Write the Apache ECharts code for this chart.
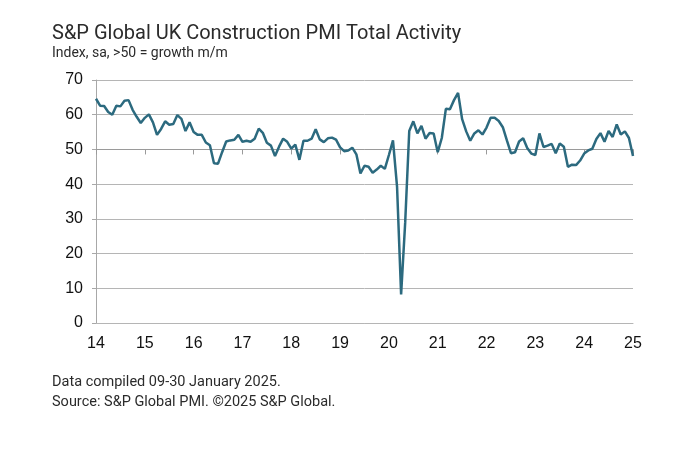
<!DOCTYPE html>
<html>
<head>
<meta charset="utf-8">
<script src="https://cdn.jsdelivr.net/npm/echarts@6/dist/echarts.min.js"></script>
<style>
  html, body { margin: 0; padding: 0; background: #fff; }
  #chart { width: 693px; height: 462px; }
</style>
</head>
<body>
<div id="chart"></div>
<script>
// Monthly index, Jan 2014 .. Jan 2025
var startYear = 14;
var pmiValues = [
  64.6, 62.6, 62.5, 60.8, 60.0, 62.6, 62.4, 64.0, 64.2, 61.4, 59.4, 57.6, // 2014
  59.1, 60.1, 57.8, 54.2, 55.9, 58.1, 57.1, 57.3, 59.9, 58.8, 55.3, 57.8, // 2015
  55.0, 54.2, 54.2, 52.0, 51.2, 46.0, 45.9, 49.2, 52.3, 52.6, 52.8, 54.2, // 2016
  52.2, 52.5, 52.2, 53.1, 56.0, 54.8, 51.9, 51.1, 48.1, 50.8, 53.1, 52.2, // 2017
  50.2, 51.4, 47.0, 52.5, 52.5, 53.1, 55.8, 52.9, 52.1, 53.2, 53.4, 52.8, // 2018
  50.6, 49.5, 49.7, 50.5, 48.6, 43.1, 45.3, 45.0, 43.3, 44.2, 45.3, 44.4, // 2019
  48.4, 52.6, 39.3, 8.2, 28.9, 55.3, 58.1, 54.6, 56.8, 53.1, 54.7, 54.6,  // 2020
  49.2, 53.3, 61.7, 61.6, 64.2, 66.3, 58.7, 55.2, 52.5, 54.6, 55.5, 54.3, // 2021
  56.3, 59.1, 59.1, 58.2, 56.4, 52.6, 48.9, 49.2, 52.3, 53.2, 50.4, 48.8, // 2022
  48.4, 54.6, 50.7, 51.1, 51.6, 48.9, 51.7, 50.8, 45.0, 45.6, 45.5, 46.8, // 2023
  48.8, 49.7, 50.2, 53.0, 54.7, 52.2, 55.3, 53.6, 57.2, 54.3, 55.2, 53.3, // 2024
  48.1                                                                    // 2025
];
var yearTicks = [14, 15, 16, 17, 18, 19, 20, 21, 22, 23, 24, 25];
var titleText = 'S&P Global UK Construction PMI Total Activity';
var subtitleText = 'Index, sa, >50 = growth m/m';
var footNotes = ['Data compiled 09-30 January 2025.', 'Source: S&P Global PMI. \u00a92025 S&P Global.'];

var seriesData = pmiValues.map(function (v, i) {
  return [startYear + i / 12, v];
});

var chart = echarts.init(document.getElementById('chart'));
chart.setOption({
  animation: false,
  textStyle: { fontFamily: 'Liberation Sans, Arial, sans-serif' },

  // Title, subtitle and footnotes
  graphic: [
    { type: 'text', left: 52, top: 24, style: { text: titleText, fill: '#2b2b2b', font: '20px Roboto, sans-serif' } },
    { type: 'text', left: 52, top: 46, style: { text: subtitleText, fill: '#2b2b2b', font: '14px Roboto, sans-serif' } },
    { type: 'text', left: 52, top: 375, style: { text: footNotes[0], fill: '#2b2b2b', font: '14.5px Roboto, sans-serif' } },
    { type: 'text', left: 52, top: 395, style: { text: footNotes[1], fill: '#2b2b2b', font: '14.5px Roboto, sans-serif' } }
  ],

  grid: { left: 96, right: 60, top: 80, bottom: 139 },

  xAxis: [{
    type: 'value',
    min: 14,
    max: 25,
    interval: 1,
    axisLine: { show: true, lineStyle: { color: '#b5b5b5', width: 1 } },
    axisTick: { show: false },
    splitLine: { show: false },
    axisLabel: {
      color: '#111',
      fontSize: 16,
      margin: 13,
      formatter: function (v) { return yearTicks.indexOf(v) >= 0 ? String(v) : ''; }
    }
  }, {
    // line at 50 with year ticks
    type: 'value',
    position: 'bottom',
    min: 14,
    max: 25,
    interval: 1,
    axisLine: { show: true, onZero: true, onZeroAxisIndex: 1, lineStyle: { color: '#9a9a9a', width: 1 } },
    axisTick: { show: true, length: 5, lineStyle: { color: '#9a9a9a' } },
    axisLabel: { show: false },
    splitLine: { show: false }
  }],

  yAxis: [{
    type: 'value',
    min: 0,
    max: 70,
    interval: 10,
    axisLine: { show: true, lineStyle: { color: '#a8a8a8' } },
    axisTick: { show: true, length: 4, lineStyle: { color: '#a8a8a8' } },
    axisLabel: { color: '#111', fontSize: 16, margin: 13 },
    splitLine: { show: true, lineStyle: { color: '#b5b5b5', width: 1 } }
  }, {
    // shifted scale so that 0 here sits on 50 of the main axis
    type: 'value',
    min: -50,
    max: 20,
    show: false
  }],

  series: [{
    name: 'Total Activity',
    type: 'line',
    data: seriesData,
    xAxisIndex: 0,
    yAxisIndex: 0,
    showSymbol: false,
    lineStyle: { color: '#2c6a7f', width: 2.5 },
    itemStyle: { color: '#2c6a7f' }
  }]
});
</script>
</body>
</html>
